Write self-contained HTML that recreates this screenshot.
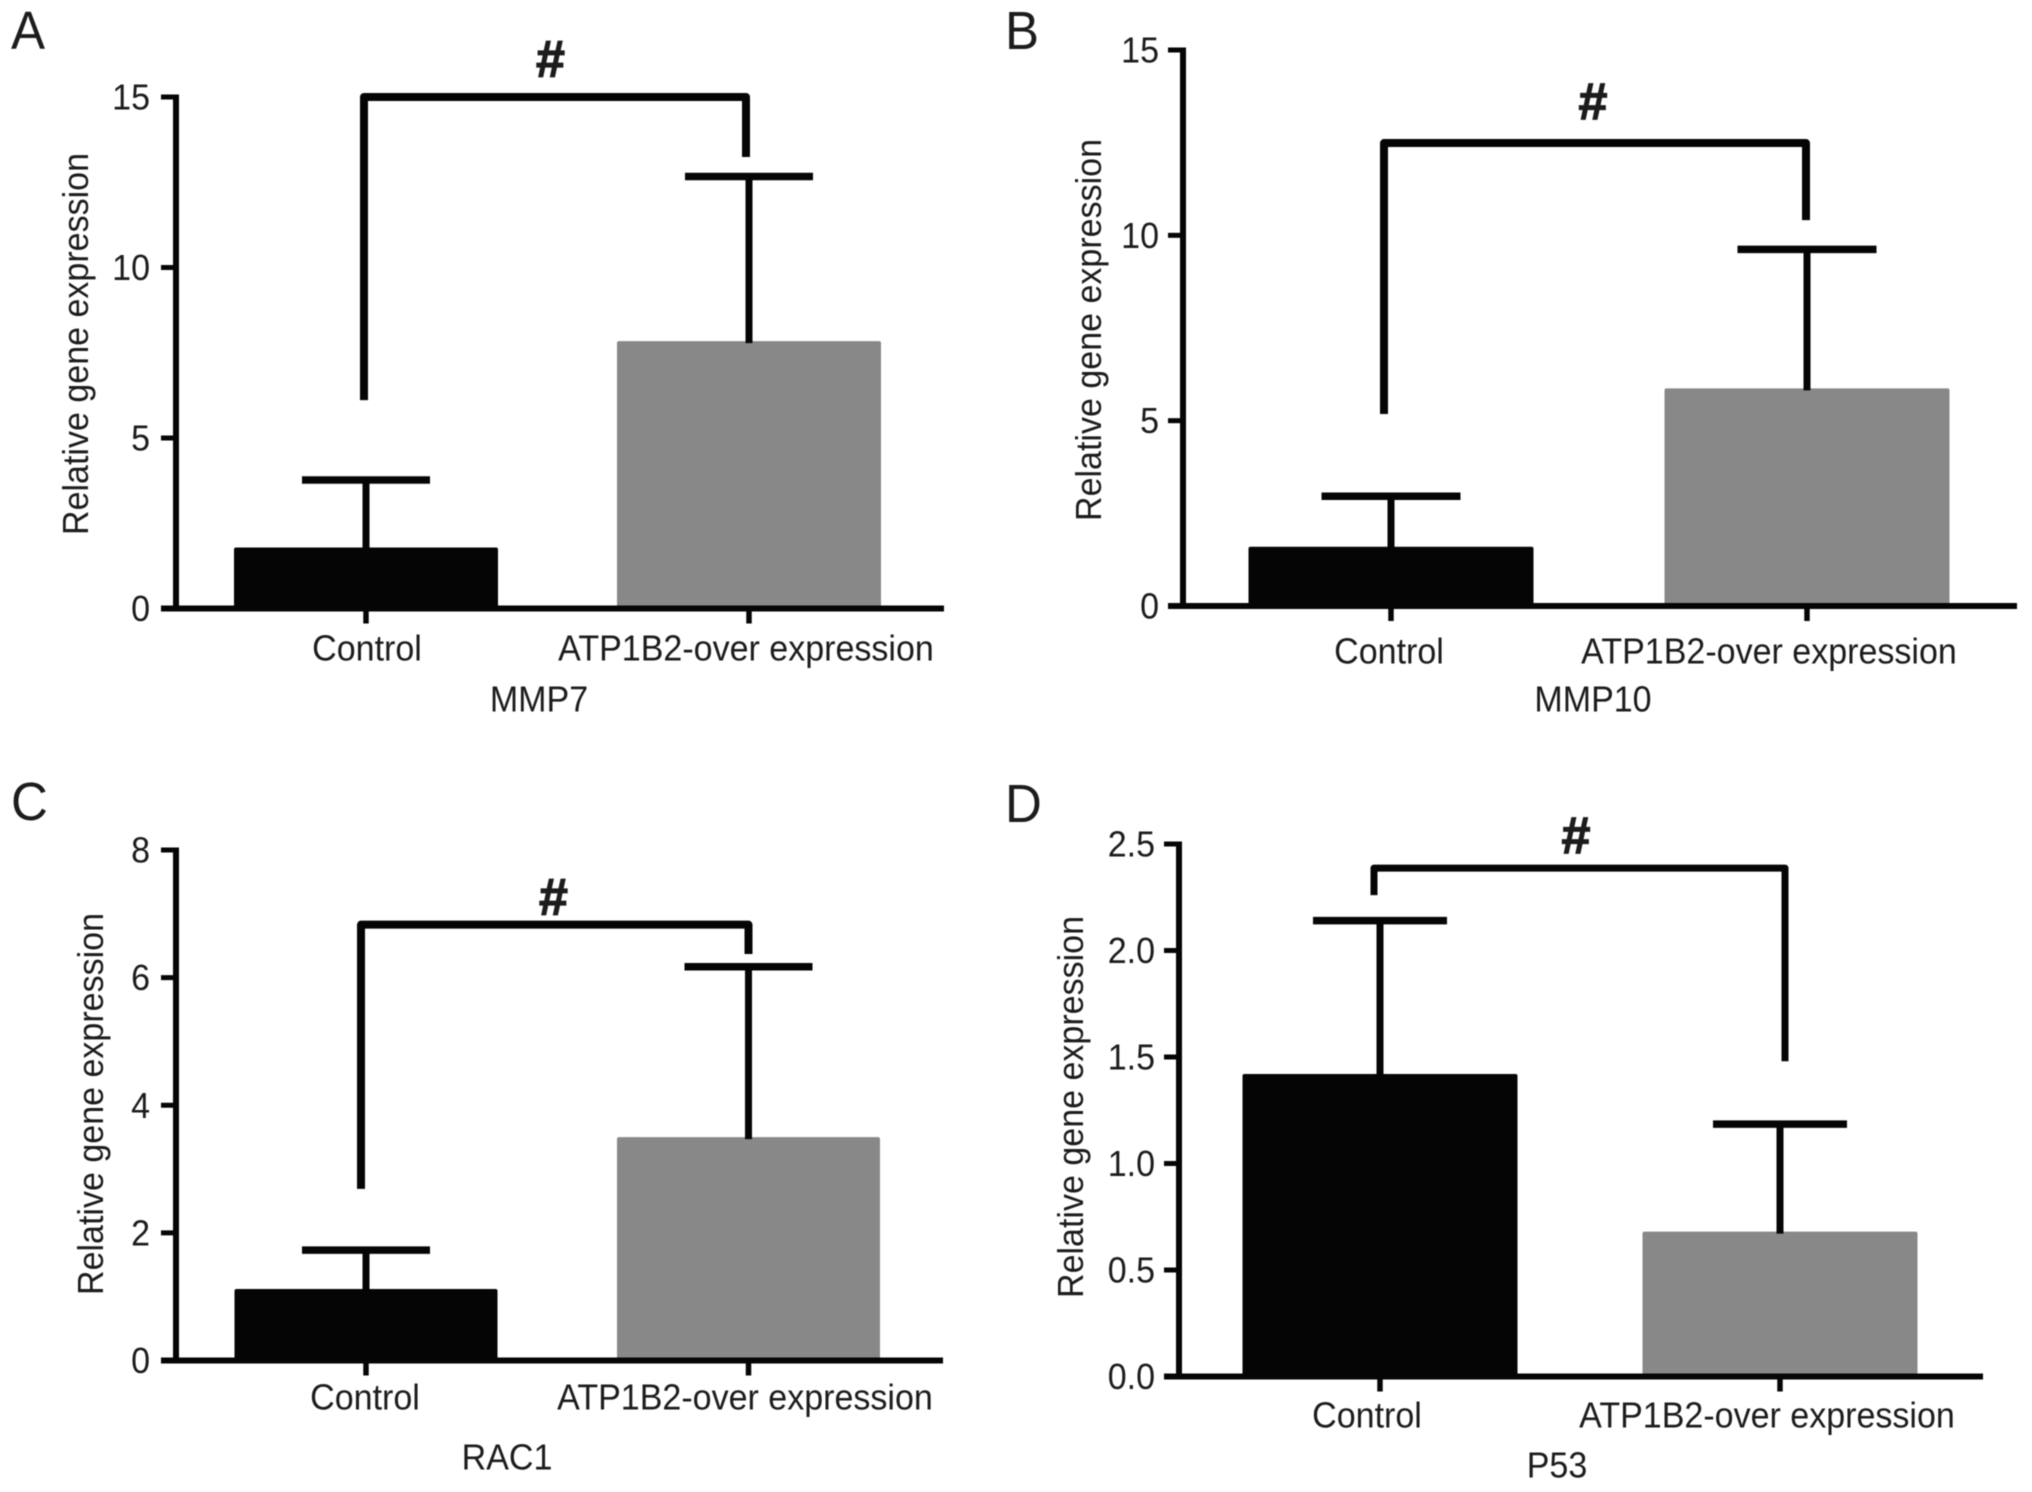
<!DOCTYPE html>
<html lang="en">
<head>
<meta charset="utf-8">
<title>Relative gene expression panels</title>
<style>
  html, body { margin: 0; padding: 0; background: #fff; }
  svg { display: block; filter: blur(0.5px); }
  text { font-family: "Liberation Sans", sans-serif; fill: #1c1c1c; }
</style>
</head>
<body>
<svg id="figure" xmlns="http://www.w3.org/2000/svg" width="2032" height="1492" viewBox="0 0 2032 1492">
  <rect width="2032" height="1492" fill="#ffffff"/>
  <g id="panel-a"></g>
  <g id="panel-b"></g>
  <g id="panel-c"></g>
  <g id="panel-d"></g>
</svg>
<script>
// ---- Data ----
const categories = ['Control', 'ATP1B2-over expression'];

const mmp7Means = [1.79, 7.84];
const mmp7Errors = [1.98, 4.83];
const mmp7Ticks = [0, 5, 10, 15];
const mmp7TickLabels = ['0', '5', '10', '15'];
const mmp7Bracket = [6.11, 15.0, 13.24];

const mmp10Means = [1.6, 5.87];
const mmp10Errors = [1.36, 3.75];
const mmp10Ticks = [0, 5, 10, 15];
const mmp10TickLabels = ['0', '5', '10', '15'];
const mmp10Bracket = [5.18, 12.49, 10.41];

const rac1Means = [1.12, 3.50];
const rac1Errors = [0.61, 2.67];
const rac1Ticks = [0, 2, 4, 6, 8];
const rac1TickLabels = ['0', '2', '4', '6', '8'];
const rac1Bracket = [2.69, 6.83, 6.37];

const p53Means = [1.42, 0.68];
const p53Errors = [0.72, 0.505];
const p53Ticks = [0, 0.5, 1, 1.5, 2, 2.5];
const p53TickLabels = ['0.0', '0.5', '1.0', '1.5', '2.0', '2.5'];
const p53Bracket = [2.26, 2.387, 1.48];

const barColors = ['#050505', '#888888'];

// ---- Layout ----
const SVG_NS = 'http://www.w3.org/2000/svg';

function make(tag, parent, props, content) {
  const el = document.createElementNS(SVG_NS, tag);
  for (const key in props) el.setAttribute(key, props[key]);
  if (content !== undefined) el.textContent = content;
  parent.appendChild(el);
  return el;
}

// The reference type is slightly condensed: narrow glyphs horizontally.
function condense(el) {
  const natural = el.getComputedTextLength();
  el.setAttribute('textLength', (natural * 0.945).toFixed(2));
  el.setAttribute('lengthAdjust', 'spacingAndGlyphs');
}

function drawPanel(cfg) {
  const root = document.getElementById(cfg.id);
  const yMax = cfg.ticks[cfg.ticks.length - 1];
  const yScale = v => cfg.y0 + (cfg.yTop - cfg.y0) * (v / yMax);
  const xScale = i => cfg.x0 + i * cfg.step;

  const letter = make('text', root, { x: cfg.letterX, y: cfg.letterY, 'font-size': 54 }, cfg.letter);
  
  
  condense(letter);

  // bars
  cfg.means.forEach((m, i) => {
    const bar = make('rect', root, {
      x: xScale(i) - cfg.barW / 2,
      y: yScale(m),
      width: cfg.barW,
      height: cfg.y0 - yScale(m),
      rx: 2,
      fill: barColors[i]
    });
    
    
  });

  // error bars
  cfg.means.forEach((m, i) => {
    const capY = yScale(m + cfg.errors[i]);
    const stem = make('line', root, {
      x1: xScale(i), x2: xScale(i), y1: yScale(m) + 2, y2: capY,
      stroke: '#050505', 'stroke-width': 7
    });
    
    
    const cap = make('line', root, {
      x1: xScale(i) - cfg.capW / 2, x2: xScale(i) + cfg.capW / 2, y1: capY, y2: capY,
      stroke: '#050505', 'stroke-width': 7.5
    });
    
    
  });

  // y axis
  const yAxis = make('line', root, {
    x1: cfg.axisX, x2: cfg.axisX, y1: yScale(yMax) - 2.5, y2: cfg.y0 + 2.5,
    stroke: '#050505', 'stroke-width': 6
  });
  
  

  // x axis
  const xAxis = make('line', root, {
    x1: cfg.axisX - 15, x2: cfg.axisEnd, y1: cfg.y0, y2: cfg.y0,
    stroke: '#050505', 'stroke-width': 6
  });
  
  

  // y ticks
  cfg.ticks.forEach((t, i) => {
    const y = yScale(t);
    const tick = make('line', root, {
      x1: cfg.axisX - 15, x2: cfg.axisX, y1: y, y2: y,
      stroke: '#050505', 'stroke-width': 5
    });
    
    
    const label = make('text', root, {
      x: cfg.tickLabelX, y: y + 12.5, 'font-size': 36, 'text-anchor': 'end'
    }, cfg.tickLabels[i]);
    
    
    condense(label);
  });

  // x ticks and category labels
  categories.forEach((c, i) => {
    const tick = make('line', root, {
      x1: xScale(i), x2: xScale(i), y1: cfg.y0, y2: cfg.y0 + 15,
      stroke: '#050505', 'stroke-width': 5.5
    });
    
    
    const label = make('text', root, {
      x: xScale(i) + cfg.labelDx[i], y: cfg.labelY, 'font-size': 36, 'text-anchor': 'middle'
    }, c);
    
    
    condense(label);
  });

  // y axis title
  const yTitle = make('text', root, {
    transform: 'translate(' + cfg.titleX + ' ' + cfg.titleY + ') rotate(-90)',
    'font-size': 36, 'text-anchor': 'middle'
  }, 'Relative gene expression');
  
  
  condense(yTitle);

  // gene label
  const gene = make('text', root, {
    x: cfg.geneX, y: cfg.geneY, 'font-size': 36, 'text-anchor': 'middle'
  }, cfg.gene);
  
  
  condense(gene);

  // significance bracket
  const bx0 = xScale(0) + cfg.bracketDx[0];
  const bx1 = xScale(1) + cfg.bracketDx[1];
  const bracket = make('polyline', root, {
    points: [bx0, yScale(cfg.bracket[0]), bx0, yScale(cfg.bracket[1]), bx1, yScale(cfg.bracket[1]), bx1, yScale(cfg.bracket[2])].join(' '),
    fill: 'none', stroke: '#050505', 'stroke-width': cfg.bracketStroke, 'stroke-linejoin': 'round'
  });
  
  

  const hash = make('text', root, {
    x: cfg.hashX, y: cfg.hashY + 19, 'font-size': 52, 'font-weight': 'bold', 'text-anchor': 'middle',
    stroke: '#1c1c1c', 'stroke-width': 1.2
  }, '#');
  
  
}

drawPanel({
  id: 'panel-a', letter: 'A', letterX: 11, letterY: 49, gene: 'MMP7',
  means: mmp7Means, errors: mmp7Errors, ticks: mmp7Ticks, tickLabels: mmp7TickLabels, bracket: mmp7Bracket,
  axisX: 176, axisEnd: 944, y0: 608.5, yTop: 97, x0: 366, step: 383, barW: 264, capW: 128,
  tickLabelX: 150, labelY: 660.5, labelDx: [1, -3], titleX: 88, titleY: 344, geneX: 539, geneY: 711.5,
  bracketDx: [-2, -3], bracketStroke: 8, hashX: 550.5, hashY: 57.5
});

drawPanel({
  id: 'panel-b', letter: 'B', letterX: 1005, letterY: 49, gene: 'MMP10',
  means: mmp10Means, errors: mmp10Errors, ticks: mmp10Ticks, tickLabels: mmp10TickLabels, bracket: mmp10Bracket,
  axisX: 1183, axisEnd: 2017, y0: 606, yTop: 50, x0: 1391, step: 416, barW: 285, capW: 139,
  tickLabelX: 1159, labelY: 663.5, labelDx: [-2, -38], titleX: 1101, titleY: 330, geneX: 1593, geneY: 711.5,
  bracketDx: [-7, -1], bracketStroke: 8, hashX: 1593, hashY: 100
});

drawPanel({
  id: 'panel-c', letter: 'C', letterX: 11, letterY: 820, gene: 'RAC1',
  means: rac1Means, errors: rac1Errors, ticks: rac1Ticks, tickLabels: rac1TickLabels, bracket: rac1Bracket,
  axisX: 176, axisEnd: 943, y0: 1360.5, yTop: 850, x0: 366, step: 382.5, barW: 263, capW: 128,
  tickLabelX: 150, labelY: 1409.5, labelDx: [-1, -3.5], titleX: 103, titleY: 1104, geneX: 507, geneY: 1469.5,
  bracketDx: [-5, 0], bracketStroke: 8, hashX: 553.5, hashY: 895.5
});

drawPanel({
  id: 'panel-d', letter: 'D', letterX: 1005, letterY: 822, gene: 'P53',
  means: p53Means, errors: p53Errors, ticks: p53Ticks, tickLabels: p53TickLabels, bracket: p53Bracket,
  axisX: 1179, axisEnd: 1983, y0: 1376.5, yTop: 844, x0: 1380, step: 400, barW: 275, capW: 134,
  tickLabelX: 1155, labelY: 1427.5, labelDx: [-13, -13], titleX: 1083, titleY: 1107, geneX: 1557, geneY: 1477.5,
  bracketDx: [-6, 5], bracketStroke: 7, hashX: 1576, hashY: 834
});
</script>
</body>
</html>
